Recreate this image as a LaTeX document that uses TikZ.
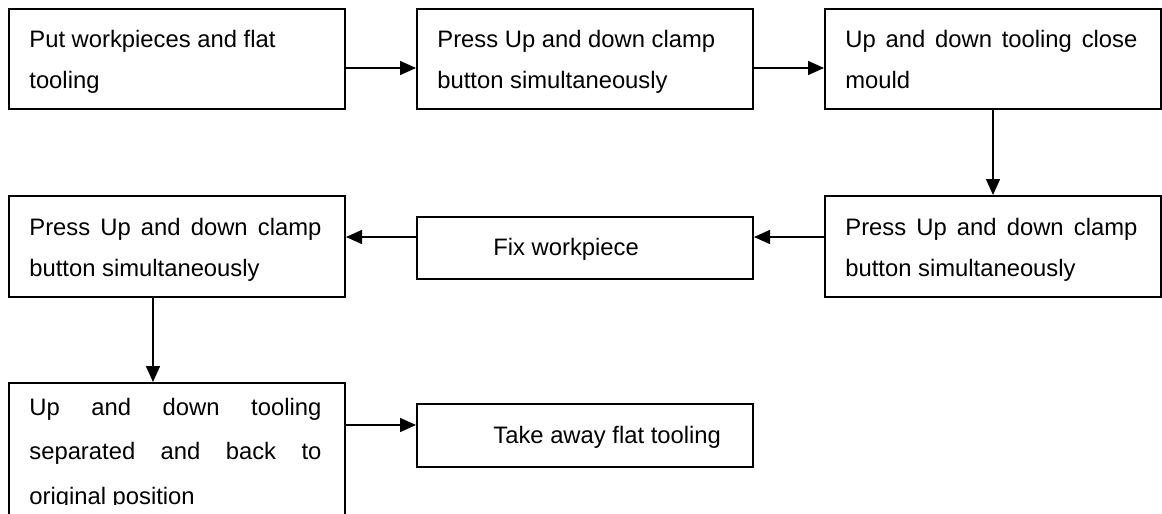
\documentclass[tikz,border=0pt]{standalone}
\usepackage{fontspec}
\setmainfont{Liberation Sans}
\usetikzlibrary{arrows.meta,calc}
\newcommand{\jl}[1]{\makebox[146pt][s]{#1}}
\begin{document}
\begin{tikzpicture}[x=0.5pt,y=-0.5pt,
  box/.style={draw, line width=1pt, rectangle, inner sep=0pt, anchor=north west},
  txt/.style={inner sep=0pt, anchor=base west, font=\fontsize{11.9}{20.5}\selectfont},
  arr/.style={line width=0.75pt, -{Triangle[length=8pt,width=7pt]}}]
\useasboundingbox (0,0) rectangle (1162,514);
% boxes
\node[box, minimum width=168pt, minimum height=50pt] (B1) at (8,8) {};
\node[box, minimum width=168pt, minimum height=50pt] (B2) at (416,8) {};
\node[box, minimum width=168pt, minimum height=50pt] (B3) at (824,8) {};
\node[box, minimum width=168pt, minimum height=50.5pt] (B4) at (824,195) {};
\node[box, minimum width=168pt, minimum height=31pt] (F) at (416,216) {};
\node[box, minimum width=168pt, minimum height=50.5pt] (B5) at (8,195) {};
\node[box, minimum width=168pt, minimum height=80pt] (B6) at (8,382) {};
\node[box, minimum width=168pt, minimum height=31.5pt] (B7) at (416,403) {};
% texts
\node[txt] (T1a) at (29,47) {Put workpieces and flat};
\node[txt] (T1b) at (29,88) {tooling};
\node[txt] (T2a) at (437,47) {Press Up and down clamp};
\node[txt] (T2b) at (437,88) {button simultaneously};
\node[txt] (T3a) at (845,47) {\jl{Up and down tooling close}};
\node[txt] (T3b) at (845,88) {mould};
\node[txt] (T4a) at (845,235) {\jl{Press Up and down clamp}};
\node[txt] (T4b) at (845,276) {button simultaneously};
\node[txt] (TF) at (493,255) {Fix workpiece};
\node[txt] (T5a) at (29,235) {\jl{Press Up and down clamp}};
\node[txt] (T5b) at (29,276) {button simultaneously};
\begin{scope}
\clip (8,382) rectangle (344,504);
\node[txt] (T6a) at (29,415) {\jl{Up and down tooling}};
\node[txt] (T6b) at (29,459) {\jl{separated and back to}};
\node[txt] (T6c) at (29,504) {original position};
\end{scope}
\node[txt] (T7) at (493,443) {Take away flat tooling};
% connectors
\coordinate (a1) at ([yshift=-4.5pt]B1.east);
\draw[arr] (a1) -- (a1 -| B2.west);
\coordinate (a2) at ([yshift=-4.5pt]B2.east);
\draw[arr] (a2) -- (a2 -| B3.west);
\draw[arr] (B3.south) -- (B4.north);
\coordinate (a3) at ([yshift=4.75pt]B4.west);
\draw[arr] (a3) -- (a3 -| F.east);
\coordinate (a4) at (a3 -| F.west);
\draw[arr] (a4) -- (a4 -| B5.east);
\coordinate (a5) at ([xshift=-12pt]B5.south);
\draw[arr] (a5) -- (a5 |- B6.north);
\coordinate (a6) at ([yshift=5.25pt]B7.west);
\draw[arr] (a6 -| B6.east) -- (a6);
\end{tikzpicture}
\end{document}
